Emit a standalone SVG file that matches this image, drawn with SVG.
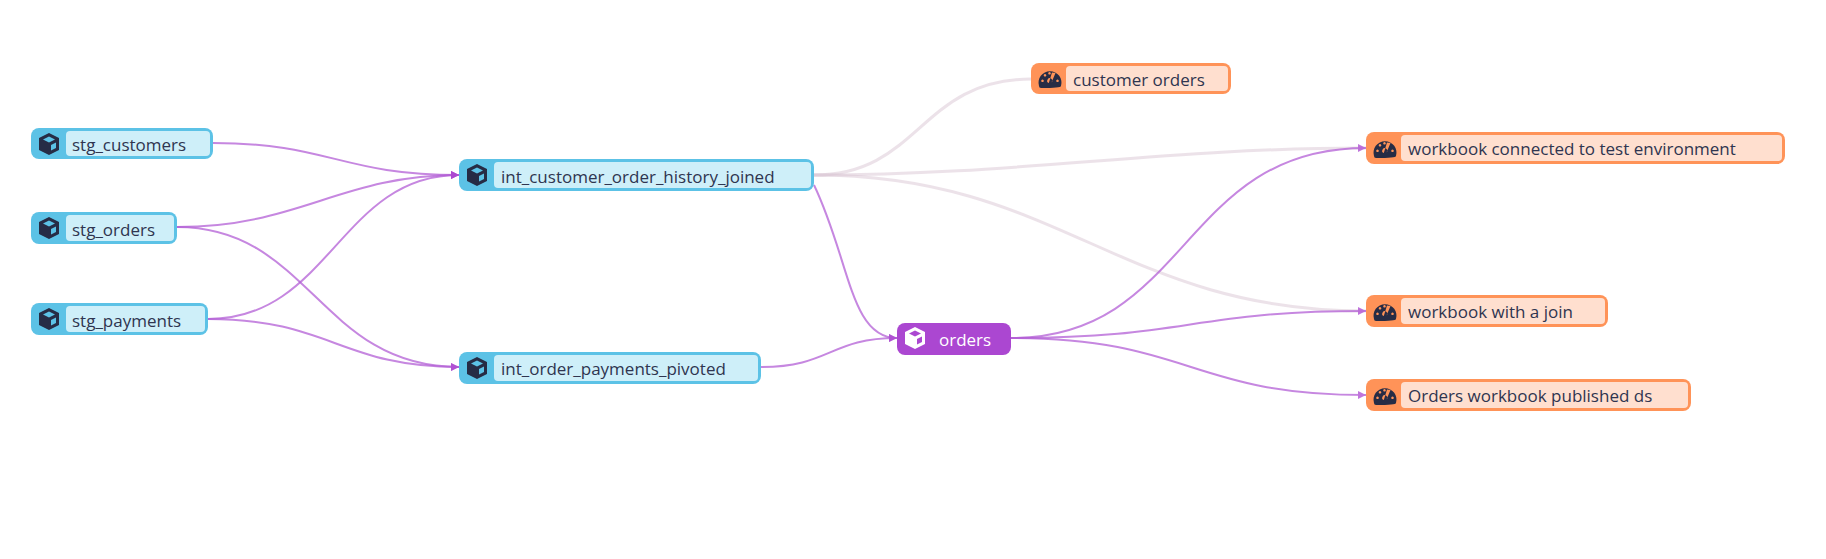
<svg xmlns="http://www.w3.org/2000/svg" width="1826" height="559" viewBox="0 0 1826 559">
<style>
text{font-family:"Open Sans","Noto Sans",sans-serif;font-size:17px;font-weight:500;fill:#2f3550}
.outer{stroke-width:0}
.m .outer{fill:#5cc2e6}.m .inner{fill:#ceeff9}
.d .outer{fill:#ff9358}.d .inner{fill:#ffdfcf}
.i{fill:#262c45}
.e{fill:none;stroke:#b35fd6;stroke-width:2;opacity:.75}
.f{fill:none;stroke:#d9c6d4;stroke-width:3;opacity:.5}
</style>
<defs>
<marker id="a" markerWidth="10" markerHeight="10" refX="8" refY="4" orient="auto" markerUnits="userSpaceOnUse"><path d="M0 0L8 4L0 8Z" fill="#ab47d1"/></marker>
<g id="cube"><path d="M0-11L10-6V6L0 11L-10 6V-6Z"/><path d="M0-7.5L6-4.6L0-1.6L-6-4.600Z" fill="currentColor"/><path d="M2 1V6.500L7 4V-1.500Z" fill="currentColor"/></g>
<g id="gauge"><path fill-rule="evenodd" d="M-11 7A11.500 11.500 0 1 1 11 7Q11 9-9 9Q-11 9-11 7ZM-7.500 0.500a1.300 1.300 0 1 0 .01 0ZM7.500 0.500a1.300 1.300 0 1 0 .01 0ZM-5-5a1.300 1.300 0 1 0 .01 0ZM-.5-7a1.300 1.300 0 1 0 .01 0ZM5.500-6 L1.500 3.500A2.500 2.500 0 1 0 -1.200 4 L2 -6.500Z" fill="#262c45"/></g>
</defs>
<g id="connectors">
<path class="f" d="M814 175C920 175 920 79 1031 79"/>
<path class="f" d="M814 175C1020 175 1160 148 1366 148"/>
<path class="f" d="M814 175C1060 175 1120 311 1366 311"/>
<path class="e" marker-end="url(#a)" d="M213 143C330 143 340 175 459 175"/>
<path class="e" marker-end="url(#a)" d="M177 227C300 227 340 175 459 175"/>
<path class="e" marker-end="url(#a)" d="M208 319C330 319 340 175 459 175"/>
<path class="e" marker-end="url(#a)" d="M177 227C310 227 320 367 459 367"/>
<path class="e" marker-end="url(#a)" d="M208 319C330 319 340 367 459 367"/>
<path class="e" marker-end="url(#a)" d="M814 185C850 260 850 338 897 338"/>
<path class="e" marker-end="url(#a)" d="M761 367C830 367 830 338 897 338"/>
<path class="e" marker-end="url(#a)" d="M1011 338C1190 338 1180 148 1366 148"/>
<path class="e" marker-end="url(#a)" d="M1011 338C1190 338 1190 311 1366 311"/>
<path class="e" marker-end="url(#a)" d="M1011 338C1190 338 1190 395 1366 395"/>
</g>
<g id="stg_customers" class="m"><rect class="outer" x="31" y="128" width="182" height="31" rx="8"/><rect class="inner" x="66" y="131" width="144" height="25" rx="4"/><use href="#cube" x="49" y="144" class="i" color="#5cc2e6"/><text x="72" y="151">stg_customers</text></g>
<g id="stg_orders" class="m"><rect class="outer" x="31" y="212" width="146" height="32" rx="8"/><rect class="inner" x="66" y="215" width="108" height="26" rx="4"/><use href="#cube" x="49" y="228" class="i" color="#5cc2e6"/><text x="72" y="236">stg_orders</text></g>
<g id="stg_payments" class="m"><rect class="outer" x="31" y="303" width="177" height="32" rx="8"/><rect class="inner" x="66" y="306" width="139" height="26" rx="4"/><use href="#cube" x="49" y="319" class="i" color="#5cc2e6"/><text x="72" y="327">stg_payments</text></g>
<g id="int_customer_order_history_joined" class="m"><rect class="outer" x="459" y="159" width="355" height="32" rx="8"/><rect class="inner" x="494" y="162" width="317" height="26" rx="4"/><use href="#cube" x="477" y="175" class="i" color="#5cc2e6"/><text x="501" y="183">int_customer_order_history_joined</text></g>
<g id="int_order_payments_pivoted" class="m"><rect class="outer" x="459" y="352" width="302" height="32" rx="8"/><rect class="inner" x="494" y="355" width="264" height="26" rx="4"/><use href="#cube" x="477" y="368" class="i" color="#5cc2e6"/><text x="501" y="375">int_order_payments_pivoted</text></g>
<g id="orders"><rect x="897" y="323" width="114" height="32" rx="8" fill="#ab47d1"/><use href="#cube" x="915" y="338" fill="#fff" color="#ab47d1"/><text x="939" y="346" style="fill:#fff">orders</text></g>
<g id="customer_orders" class="d"><rect class="outer" x="1031" y="63" width="200" height="31" rx="8"/><rect class="inner" x="1066" y="66" width="162" height="25" rx="4"/><use href="#gauge" x="1050" y="79" class="i"/><text x="1073" y="86">customer orders</text></g>
<g id="workbook_connected" class="d"><rect class="outer" x="1366" y="132" width="419" height="32" rx="8"/><rect class="inner" x="1401" y="135" width="381" height="26" rx="4"/><use href="#gauge" x="1385" y="149" class="i"/><text x="1408" y="155">workbook connected to test environment</text></g>
<g id="workbook_join" class="d"><rect class="outer" x="1366" y="295" width="242" height="32" rx="8"/><rect class="inner" x="1401" y="298" width="204" height="26" rx="4"/><use href="#gauge" x="1385" y="312" class="i"/><text x="1408" y="318">workbook with a join</text></g>
<g id="orders_published" class="d"><rect class="outer" x="1366" y="379" width="325" height="32" rx="8"/><rect class="inner" x="1401" y="382" width="287" height="26" rx="4"/><use href="#gauge" x="1385" y="396" class="i"/><text x="1408" y="402">Orders workbook published ds</text></g>
</svg>
